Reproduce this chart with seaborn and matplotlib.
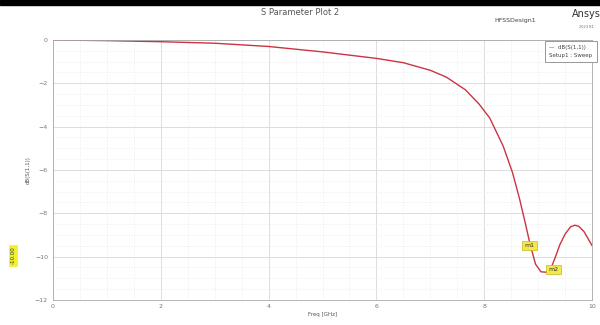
import pandas as pd
import matplotlib.pyplot as plt
import seaborn as sns
from matplotlib.ticker import MultipleLocator

# S11 readings
freq_ghz = [0.0, 1.0, 2.0, 3.0, 4.0, 5.0, 6.0, 6.5, 7.0, 7.3, 7.65, 7.9, 8.1,
            8.35, 8.52, 8.65, 8.75, 8.85, 8.95, 9.05, 9.15, 9.25, 9.32, 9.4,
            9.5, 9.6, 9.68, 9.75, 9.85, 9.93, 10.0]
s11_db = [0.0, -0.03, -0.08, -0.15, -0.3, -0.55, -0.85, -1.05, -1.4, -1.72,
          -2.3, -2.95, -3.6, -4.9, -6.1, -7.3, -8.35, -9.45, -10.35, -10.7,
          -10.72, -10.45, -10.0, -9.45, -8.95, -8.62, -8.55, -8.6, -8.85,
          -9.2, -9.5]

marker_labels = ["m1", "m2"]
marker_freq = [8.84, 9.28]
marker_db = [-9.5, -10.6]

df = pd.DataFrame({"freq": freq_ghz, "db": s11_db})

sns.set_style("white")
plt.rcParams['font.family'] = ['DejaVu Sans']

fig = plt.figure(figsize=(6, 3.25), dpi=100)
ax = fig.add_axes([0.088, 0.077, 0.899, 0.80])

sns.lineplot(data=df, x="freq", y="db", ax=ax, color="#cc3344", linewidth=1.0)

ax.set_xlim(0, 10)
ax.set_ylim(-12, 0)
ax.xaxis.set_major_locator(MultipleLocator(2))
ax.yaxis.set_major_locator(MultipleLocator(2))
ax.xaxis.set_minor_locator(MultipleLocator(0.5))
ax.yaxis.set_minor_locator(MultipleLocator(0.5))
ax.grid(True, which="major", color="#d8d8d8", linewidth=0.6)
ax.grid(True, which="minor", color="#ececec", linewidth=0.5, linestyle=(0, (2, 2)))
ax.tick_params(which="both", direction="in", labelsize=4.5, colors="#777777",
               length=2, width=0.5)
ax.tick_params(which="minor", length=1.2)
ax.tick_params(axis="x", pad=3)
for s in ax.spines.values():
    s.set_color("#aaaaaa")
    s.set_linewidth(0.6)

ax.set_xlabel("Freq [GHz]", fontsize=4, color="#555555", labelpad=2)
ax.set_ylabel("dB(S(1,1))", fontsize=4, color="#555555", labelpad=3)

for lab, f, d in zip(marker_labels, marker_freq, marker_db):
    ax.text(f, d, lab, fontsize=4.5, color="#333333", ha="center", va="center",
            bbox=dict(boxstyle="square,pad=0.35", fc="#f3e84a", ec="#c8b820", lw=0.5))

# Y-marker tag on left side
fig.text(0.022, 0.215, "-10.00", rotation=90, fontsize=4, color="#333333",
         ha="center", va="center",
         bbox=dict(boxstyle="square,pad=0.3", fc="#eef030", ec="#eef030", lw=0.5))

# legend box
fig.text(0.915, 0.86, "\u2014  dB(S(1,1))\nSetup1 : Sweep", fontsize=4,
         color="#444444", ha="left", va="top", linespacing=1.5,
         bbox=dict(boxstyle="square,pad=0.8", fc="white", ec="#888888", lw=0.6))

fig.text(0.5, 0.962, "S Parameter Plot 2", fontsize=6, color="#555555", ha="center", va="center")
fig.text(0.858, 0.938, "HFSSDesign1", fontsize=4.5, color="#444444", ha="center", va="center")
fig.text(0.978, 0.958, "Ansys", fontsize=7, color="#333333", ha="center", va="center")
fig.text(0.978, 0.918, "2023 R1", fontsize=2.5, color="#666666", ha="center", va="center")

# black bar at top
fig.patches.append(plt.Rectangle((0, 0.985), 1, 0.015, transform=fig.transFigure,
                                 color="black", zorder=10))

fig.savefig("out.png", dpi=100)
